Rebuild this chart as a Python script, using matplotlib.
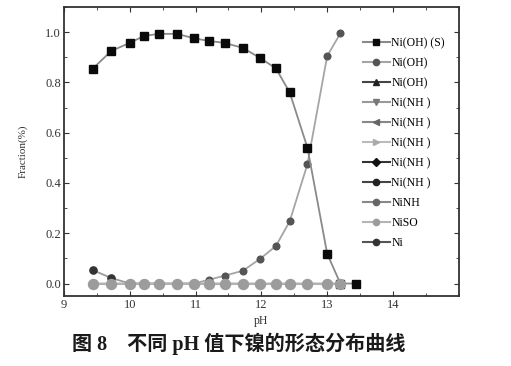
import matplotlib
matplotlib.use("Agg")
import matplotlib.pyplot as plt
from matplotlib.lines import Line2D
from matplotlib.ticker import MultipleLocator

plt.rcParams['font.family'] = ['Liberation Serif', 'Noto Sans CJK SC']

# pH values of the calculated points
ph = [9.44, 9.72, 10.0, 10.22, 10.45, 10.72, 10.98, 11.2, 11.44, 11.72,
      11.98, 12.22, 12.43, 12.7, 13.0, 13.2, 13.44]

# fraction of each species
ni_oh2_s = [0.855, 0.925, 0.957, 0.985, 0.993, 0.993, 0.975, 0.965, 0.957,
            0.937, 0.897, 0.856, 0.76, 0.54, 0.118, 0.0, 0.0]
ni_oh3 = [0.0, 0.0, 0.0, 0.0, 0.0, 0.0, 0.0, 0.015, 0.031, 0.051,
          0.098, 0.149, 0.247, 0.475, 0.905, 0.995]
ni_free = [0.053, 0.022, 0.0, 0.0, 0.0, 0.0, 0.0, 0.0, 0.0, 0.0,
           0.0, 0.0, 0.0, 0.0, 0.0, 0.0]
zeros = [0.0] * 16

labels = ["Ni(OH) (S)", "Ni(OH)", "Ni(OH)", "Ni(NH )", "Ni(NH )", "Ni(NH )",
          "Ni(NH )", "Ni(NH )", "NiNH", "NiSO", "Ni"]
series = [ni_oh2_s, ni_oh3, zeros, zeros, zeros, zeros, zeros, zeros,
          zeros, zeros, ni_free]

# (marker, marker colour, line colour)
styles = [("s", "#0a0a0a", "#8a8a8a"),
          ("o", "#555555", "#a5a5a5"),
          ("^", "#222222", "#444444"),
          ("v", "#777777", "#999999"),
          ("<", "#666666", "#888888"),
          (">", "#aaaaaa", "#bbbbbb"),
          ("D", "#111111", "#333333"),
          ("o", "#222222", "#444444"),
          ("o", "#666666", "#888888"),
          ("o", "#9c9c9c", "#b5b5b5"),
          ("o", "#333333", "#555555")]
sizes = [5.6, 4.8, 4, 4, 4, 4, 4, 4, 5, 7.2, 5.2]
zorders = [5, 4, 2, 2, 2, 2, 2, 2, 2, 6, 3.5]

fig = plt.figure(figsize=(5.11, 3.66), dpi=100)
ax = fig.add_axes([0.125, 0.191, 0.773, 0.790])

for vals, (m, mc, lc), s, z in zip(series, styles, sizes, zorders):
    ax.plot(ph[:len(vals)], vals, color=lc if z != 3.5 else "#9a9a9a", lw=1.3,
            marker=m, ms=s, mfc=mc, mec=mc, zorder=z)

handles = [Line2D([], [], color=lc, lw=1.5, marker=m, ms=4.5, mfc=mc, mec=mc)
           for (m, mc, lc) in styles]
ax.legend(handles, labels, loc="upper left", bbox_to_anchor=(0.745, 0.912),
          frameon=False, fontsize=8.5, handlelength=2.3, handletextpad=0.1,
          labelspacing=0.68, borderaxespad=0)

ax.set_xlim(9, 15)
ax.set_ylim(-0.05, 1.1)
ax.set_xticks([9, 10, 11, 12, 13, 14])
ax.xaxis.set_minor_locator(MultipleLocator(0.5))
ax.yaxis.set_minor_locator(MultipleLocator(0.1))
ax.set_yticks([0.0, 0.2, 0.4, 0.6, 0.8, 1.0])
ax.set_yticklabels(["0.0", "0.2", "0.4", "0.6", "0.8", "1.0"])
ax.tick_params(which="both", direction="in", top=True, right=True,
               labelsize=9, color="#333333", labelcolor="#333333")
ax.tick_params(which="major", length=3.5, width=0.8, pad=2)
ax.tick_params(which="minor", length=2, width=0.6)
for sp in ax.spines.values():
    sp.set_linewidth(1.3)
    sp.set_color("#333333")

ax.set_xlabel("pH", fontsize=8.5, labelpad=3, color="#333333")
ax.set_ylabel("Fraction(%)", fontsize=8, labelpad=13, color="#333333")

fig.text(0.468, 0.06, "图 8    不同 pH 值下镍的形态分布曲线", ha="center",
         va="center", fontsize=14.5, fontweight="bold", color="#1a1a1a")

fig.savefig("out.png", dpi=100)
